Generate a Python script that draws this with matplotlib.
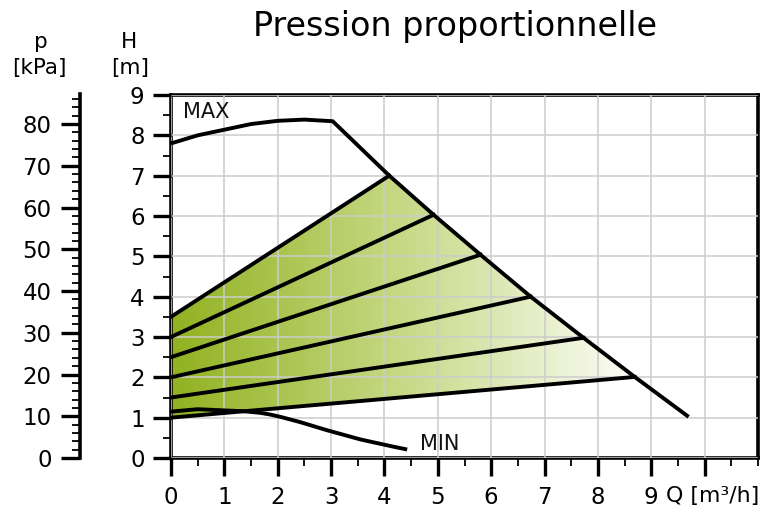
import numpy as np
import matplotlib
matplotlib.use("Agg")
import matplotlib.pyplot as plt
from matplotlib.colors import LinearSegmentedColormap
from matplotlib.patches import Polygon
from matplotlib.ticker import MultipleLocator

plt.rcParams['font.family'] = ['DejaVu Sans']

# ---- data ----
max_q = [0, 0.5, 1.0, 1.5, 2.0, 2.5, 3.03, 4.09, 4.92, 5.80, 6.74, 7.73, 8.69, 9.7]
max_h = [7.8, 8.0, 8.14, 8.28, 8.36, 8.39, 8.35, 7.0, 6.03, 5.04, 4.0, 2.98, 2.01, 1.02]

min_q = [0, 0.5, 1.0, 1.36, 1.67, 1.85, 2.05, 2.42, 2.92, 3.55, 4.17, 4.39]
min_h = [1.15, 1.21, 1.18, 1.16, 1.12, 1.08, 1.02, 0.89, 0.69, 0.46, 0.28, 0.22]

prop_start_h = [3.5, 3.0, 2.5, 2.0, 1.5, 1.0]
prop_end_q = [4.09, 4.92, 5.80, 6.74, 7.73, 8.69]
prop_end_h = [7.0, 6.03, 5.04, 4.0, 2.98, 2.01]

x_ticks = [0, 1, 2, 3, 4, 5, 6, 7, 8, 9]
h_ticks = [0, 1, 2, 3, 4, 5, 6, 7, 8, 9]
p_ticks = [0, 10, 20, 30, 40, 50, 60, 70, 80]
p_max = 87.2

W, H = 761, 512
fig = plt.figure(figsize=(W / 100, H / 100), dpi=100)

left, right, top, bottom = 171, 758, 95, 458
ax = fig.add_axes([left / W, 1 - bottom / H, (right - left) / W, (bottom - top) / H])
ax.set_xlim(0, 11)
ax.set_ylim(0, 9)

# gradient fill inside the proportional area
i_top = max_q.index(prop_end_q[0])
i_bot = max_q.index(prop_end_q[-1])
poly_pts = [(0, prop_start_h[-1]), (prop_end_q[-1], prop_end_h[-1])]
for i in range(i_bot - 1, i_top - 1, -1):
    poly_pts.append((max_q[i], max_h[i]))
poly_pts.append((0, prop_start_h[0]))
poly = Polygon(poly_pts, closed=True, facecolor='none', edgecolor='none')
ax.add_patch(poly)
cmap = LinearSegmentedColormap.from_list('g', ['#91b221', '#c8da88', '#ffffff'])
grad = np.linspace(0, 1, 256).reshape(1, -1)
im = ax.imshow(grad, extent=[0, 8.9, 0, 9], aspect='auto', cmap=cmap,
               origin='lower', zorder=1, interpolation='bicubic')
im.set_clip_path(poly)

ax.grid(True, color='#cccccc', lw=1.1)
ax.set_axisbelow(False)
for gl in ax.get_xgridlines() + ax.get_ygridlines():
    gl.set_zorder(1.5)

lw = 2.8
ax.plot(max_q, max_h, color='black', lw=lw, zorder=3, solid_capstyle='butt')
ax.plot(min_q, min_h, color='black', lw=lw, zorder=3)
for h0, qe, he in zip(prop_start_h, prop_end_q, prop_end_h):
    ax.plot([0, qe], [h0, he], color='black', lw=lw, zorder=3)

ax.text(0.22, 8.44, 'MAX', fontsize=15, va='baseline', ha='left', color='#111111')
ax.text(4.67, 0.2, 'MIN', fontsize=15, va='baseline', ha='left', color='#111111')

for s in ax.spines.values():
    s.set_linewidth(2.6)
    s.set_color('black')

ax.set_xticks(x_ticks + [10])
ax.set_xticklabels([str(t) for t in x_ticks] + [''])
ax.xaxis.set_minor_locator(MultipleLocator(0.5))
ax.set_yticks(h_ticks)
ax.set_yticklabels([str(t) for t in h_ticks])
ax.yaxis.set_minor_locator(MultipleLocator(0.5))
ax.tick_params(axis='both', which='major', direction='out', length=13, width=2.4,
               labelsize=16.5, color='black')
ax.tick_params(axis='both', which='minor', direction='out', length=6, width=1.3,
               color='black')
ax.tick_params(axis='x', which='major', pad=7)
ax.tick_params(axis='y', which='major', pad=6)
ax.grid(False, which='minor')

qtext = ax.text(9.28, 0, 'Q [m³/h]', transform=ax.get_xaxis_transform(), fontsize=15.8,
                ha='left', va='top')
# align the Q label with the tick labels
fig.canvas.draw()
bb = ax.get_xticklabels()[9].get_window_extent()
qy = ax.transAxes.inverted().transform((0, bb.y1))[1]
qtext.set_position((9.28, qy))

# pressure axis
pax = fig.add_axes([80 / W, 1 - bottom / H, 0.0005, (bottom - 94) / H])
pax.set_ylim(0, p_max)
pax.set_xticks([])
for k in ['right', 'top', 'bottom']:
    pax.spines[k].set_visible(False)
pax.spines['left'].set_linewidth(2.6)
pax.patch.set_visible(False)
pax.set_yticks(p_ticks)
pax.set_yticklabels([str(t) for t in p_ticks])
pax.yaxis.set_minor_locator(MultipleLocator(2))
pax.tick_params(axis='y', which='major', direction='out', length=13.5, width=2.4,
                labelsize=16.5, pad=7)
pax.tick_params(axis='y', which='minor', direction='out', length=6, width=1.3)

# headers
fig.text(41 / W, 1 - 48 / H, 'p', fontsize=15.5, ha='center', va='baseline')
fig.text(39 / W, 1 - 74 / H, '[kPa]', fontsize=15.5, ha='center', va='baseline')
fig.text(129 / W, 1 - 48 / H, 'H', fontsize=15.5, ha='center', va='baseline')
fig.text(130 / W, 1 - 74 / H, '[m]', fontsize=15.5, ha='center', va='baseline')
fig.text(455 / W, 1 - 36 / H, 'Pression proportionnelle', fontsize=24,
         ha='center', va='baseline')

fig.savefig('out.png', dpi=100)
